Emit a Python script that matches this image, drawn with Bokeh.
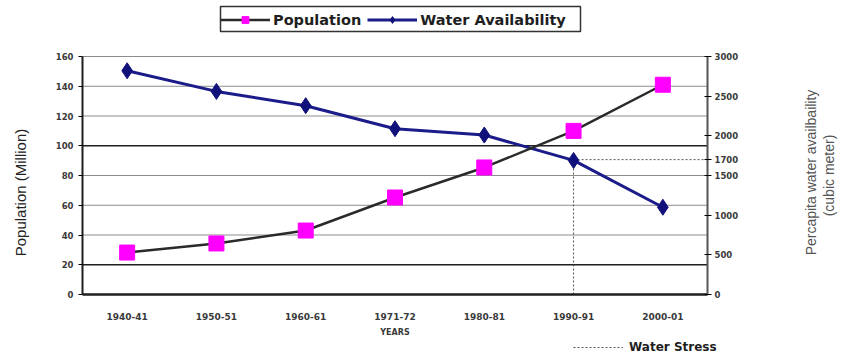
from bokeh.plotting import figure
from bokeh.models import (LinearAxis, Range1d, FixedTicker, Legend, LegendItem, Label,
                          ColumnDataSource, BoxAnnotation)
from bokeh.embed import file_html
from bokeh.resources import INLINE

# ---------------- data ----------------
years = ["1940-41", "1950-51", "1960-61", "1971-72", "1980-81", "1990-91", "2000-01"]
population = [28.2, 34.3, 43.0, 65.2, 85.4, 110.0, 141.0]
water = [2820, 2560, 2380, 2090, 2010, 1690, 1100]
left_ticks = [0, 20, 40, 60, 80, 100, 120, 140, 160]
right_ticks = [0, 500, 1000, 1500, 1700, 2000, 2500, 3000]
dark_grid = [20, 100]
stress_level = 1700
stress_year = "1990-91"

# ---------------- layout (pixels) ----------------
W, H = 846, 354
PL, PR, PT, PB = 82, 707, 56, 294          # plot-area edges
LEFT_MAX, RIGHT_MAX = 160, 3000
FONT = "Liberation Sans"
BFONT = "DejaVu Sans"

n = len(years)
xi = list(range(n))
cat_w = (PR - PL) / n
x_start = -0.5 - PL / cat_w
x_end = n - 0.5 + (W - PR) / cat_w
ly = (PB - PT) / LEFT_MAX
ry = (PB - PT) / RIGHT_MAX
y_start, y_end = -(H - PB) / ly, LEFT_MAX + PT / ly
w_start, w_end = -(H - PB) / ry, RIGHT_MAX + PT / ry


def px_x(px):
    return x_start + px / cat_w


def px_y(py):
    return y_start + (H - py) / ly


p = figure(width=W, height=H, x_range=Range1d(x_start, x_end), y_range=Range1d(y_start, y_end),
           output_backend="svg", toolbar_location=None, x_axis_location=None,
           y_axis_location=None, min_border=0)
p.extra_y_ranges = {"water": Range1d(w_start, w_end)}
p.outline_line_color = None
p.background_fill_color = "white"
p.xgrid.visible = False
p.ygrid.visible = False

# horizontal grid lines, limited to the plot area
grid_light = [t for t in left_ticks if t not in dark_grid and t != 0]
p.segment(x0=-0.5, x1=n - 0.5, y0=grid_light, y1=grid_light, line_color="#8c8c8c",
          line_width=1, level="underlay")
p.segment(x0=-0.5, x1=n - 0.5, y0=dark_grid, y1=dark_grid, line_color="#1e1e1e",
          line_width=1.6, level="underlay")


def style_ticks(ax, size="9px"):
    ax.major_label_text_font = BFONT
    ax.major_label_text_font_style = "bold"
    ax.major_label_text_font_size = size
    ax.major_label_text_color = "#3a3a3a"
    ax.minor_tick_line_color = None


# left axis
la = LinearAxis(ticker=FixedTicker(ticks=left_ticks), fixed_location=-0.5,
                bounds=(0, LEFT_MAX))
la.axis_line_color = "#1e1e1e"
la.axis_line_width = 2
la.major_tick_out = 4
la.major_tick_in = 0
la.major_label_standoff = 5
style_ticks(la, "8.5px")
p.add_layout(la, "left")

# right axis
ra = LinearAxis(y_range_name="water", ticker=FixedTicker(ticks=right_ticks),
                fixed_location=n - 0.5, bounds=(0, RIGHT_MAX))
ra.axis_line_color = "#555555"
ra.axis_line_width = 2
ra.major_tick_out = 4
ra.major_tick_in = 3
ra.major_label_standoff = 3
style_ticks(ra, "8.5px")
p.add_layout(ra, "right")

# bottom axis
ba = LinearAxis(ticker=FixedTicker(ticks=xi), fixed_location=0, bounds=(-0.5, n - 0.5),
                major_label_overrides={i: y for i, y in zip(xi, years)})
ba.axis_line_color = "#1e1e1e"
ba.axis_line_width = 2.5
ba.major_tick_line_color = None
ba.major_label_standoff = 12
style_ticks(ba, "9px")
ba.axis_label = "YEARS"
ba.axis_label_text_font = BFONT
ba.axis_label_text_font_style = "bold"
ba.axis_label_text_font_size = "8px"
ba.axis_label_text_color = "#3a3a3a"
ba.axis_label_standoff = 5
p.add_layout(ba, "below")

# axis titles
p.add_layout(Label(x=px_x(20), y=px_y(192), text="Population (Million)", angle=90,
                   angle_units="deg", text_align="center", text_baseline="middle",
                   text_font=FONT, text_font_size="15px", text_color="#222222"))
p.add_layout(Label(x=px_x(810), y=px_y(172), text="Percapita water availbaility", angle=90,
                   angle_units="deg", text_align="center", text_baseline="middle",
                   text_font=FONT, text_font_size="14px", text_color="#555555"))
p.add_layout(Label(x=px_x(828), y=px_y(175), text="(cubic meter)", angle=90,
                   angle_units="deg", text_align="center", text_baseline="middle",
                   text_font=FONT, text_font_size="14px", text_color="#555555"))

# water stress dotted lines
si = years.index(stress_year)
ws = ColumnDataSource(dict(x0=[si], x1=[n - 0.5], y=[stress_level], y0=[0]))
r_stress = p.segment(x0="x0", y0="y", x1="x1", y1="y", source=ws, y_range_name="water",
                     line_color="#555555", line_width=1, line_dash="2 2")
p.segment(x0="x0", y0="y0", x1="x0", y1="y", source=ws, y_range_name="water",
          line_color="#555555", line_width=1, line_dash="2 2")

# series
r_wl = p.line(xi, water, y_range_name="water", line_color="#1b1b8a", line_width=3)
r_wm = p.scatter(xi, water, y_range_name="water", marker="diamond", size=16,
                 fill_color="#10107a", line_color="#10107a")
r_pl = p.line(xi, population, line_color="#2a2a2a", line_width=2.5)
r_pm = p.scatter(xi, population, marker="square", size=15, fill_color="#ff00ff",
                 line_color="#ff00ff")

# legend frame
p.add_layout(BoxAnnotation(left=px_x(220), right=px_x(580), top=px_y(6), bottom=px_y(31),
                           fill_alpha=0, line_color="#333333", line_width=1.5,
                           line_alpha=1))

legend = Legend(items=[LegendItem(label="Population", renderers=[r_pl, r_pm]),
                       LegendItem(label="Water Availability", renderers=[r_wl, r_wm])],
                orientation="horizontal", location=(220, H - 28),
                label_text_font=BFONT, label_text_font_style="bold",
                label_text_font_size="14.5px", label_text_color="#1e1e1e",
                border_line_color=None, background_fill_alpha=0, glyph_width=50,
                glyph_height=17, label_height=17, padding=3, spacing=6, label_standoff=3,
                margin=0)
p.add_layout(legend)

legend2 = Legend(items=[LegendItem(label="Water Stress", renderers=[r_stress])],
                 location=(573, 0), label_text_font=BFONT, label_text_font_style="bold",
                 label_text_font_size="12px", label_text_color="#1e1e1e",
                 border_line_color=None, background_fill_alpha=0, glyph_width=50,
                 glyph_height=12, label_height=12, padding=2, margin=0, label_standoff=6)
p.add_layout(legend2)

open("out.html", "w").write(file_html(p, INLINE))
